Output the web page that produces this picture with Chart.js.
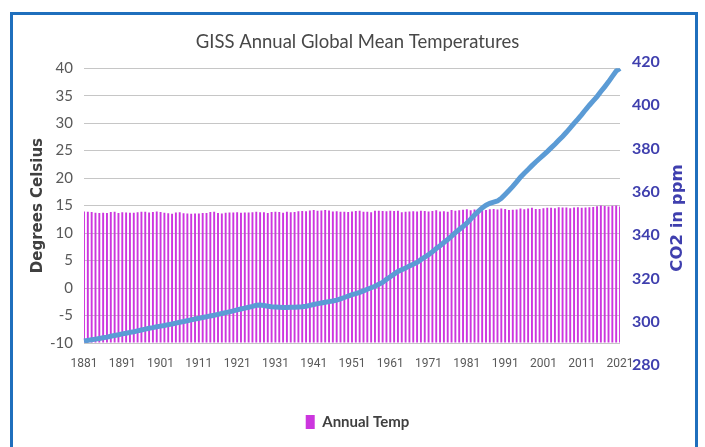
<!DOCTYPE html>
<html>
<head>
<meta charset="utf-8">
<title>GISS Annual Global Mean Temperatures</title>
<script src="https://cdn.jsdelivr.net/npm/chart.js@4/dist/chart.umd.min.js"></script>
<style>
    html, body { margin: 0; padding: 0; background: #fff; overflow: hidden; }
    #frame {
        position: absolute; left: 10px; top: 12px;
        width: 688px; height: 470px;
        border: 3px solid #1f6fbd; box-sizing: border-box;
    }
    #chart { position: absolute; left: 0; top: 0; }
</style>
</head>
<body>
<div id="frame"></div>
<canvas id="chart" width="705" height="447"></canvas>
<script>
// Years on the category axis
const years = Array.from({ length: 141 }, (_, i) => String(1881 + i));
const xTickYears = ['1881', '1891', '1901', '1911', '1921', '1931', '1941',
    '1951', '1961', '1971', '1981', '1991', '2001', '2011', '2021'];

// Annual global mean temperature, degrees Celsius (1881 - 2021)
const annualTemp = [
    13.91, 13.89, 13.83, 13.72, 13.67, 13.69, 13.64, 13.83, 13.90, 13.65,
    13.78, 13.73, 13.69, 13.70, 13.77, 13.89, 13.89, 13.73, 13.83, 13.92,
    13.85, 13.72, 13.63, 13.53, 13.74, 13.78, 13.61, 13.57, 13.52, 13.57,
    13.56, 13.64, 13.66, 13.85, 13.86, 13.64, 13.54, 13.70, 13.73, 13.73,
    13.81, 13.72, 13.74, 13.73, 13.78, 13.89, 13.78, 13.80, 13.64, 13.84,
    13.90, 13.84, 13.71, 13.87, 13.80, 13.85, 13.97, 14.00, 13.98, 14.13,
    14.19, 14.07, 14.09, 14.20, 14.09, 13.93, 13.97, 13.89, 13.89, 13.83,
    13.93, 14.01, 14.08, 13.87, 13.86, 13.81, 14.05, 14.06, 14.03, 13.97,
    14.06, 14.03, 14.05, 13.80, 13.89, 13.94, 13.98, 13.92, 14.05, 14.03,
    13.92, 14.01, 14.16, 13.93, 13.99, 13.90, 14.18, 14.07, 14.16, 14.26,
    14.32, 14.14, 14.31, 14.16, 14.12, 14.18, 14.32, 14.39, 14.27, 14.45,
    14.40, 14.22, 14.23, 14.31, 14.45, 14.33, 14.46, 14.61, 14.38, 14.39,
    14.54, 14.63, 14.62, 14.53, 14.68, 14.64, 14.66, 14.54, 14.65, 14.72,
    14.61, 14.65, 14.68, 14.75, 14.90, 15.01, 14.92, 14.85, 14.98, 15.02,
    14.85
];

// Atmospheric CO2, ppm (1881 - 2021)
const co2 = [
    291.1, 291.4, 291.7, 292.0, 292.3, 292.6, 292.9, 293.3, 293.7, 294.0,
    294.4, 294.7, 295.1, 295.4, 295.8, 296.2, 296.6, 297.0, 297.3, 297.7,
    298.0, 298.3, 298.7, 299.0, 299.4, 299.8, 300.1, 300.5, 300.9, 301.3,
    301.6, 302.0, 302.3, 302.7, 303.0, 303.4, 303.8, 304.2, 304.6, 305.0,
    305.5, 305.9, 306.3, 306.7, 307.1, 307.6, 307.7, 307.5, 307.2, 306.9,
    306.8, 306.7, 306.6, 306.6, 306.7, 306.7, 306.8, 306.9, 307.2, 307.6,
    308.0, 308.4, 308.7, 309.0, 309.3, 309.6, 310.0, 310.6, 311.2, 311.9,
    312.5, 313.0, 313.6, 314.3, 315.0, 315.7, 316.4, 317.3, 318.2, 319.6,
    320.8, 322.0, 323.2, 324.0, 324.8, 325.8, 326.6, 327.4, 328.7, 329.8,
    331.0, 332.3, 333.8, 335.1, 336.6, 338.0, 339.6, 341.2, 342.6, 344.0,
    345.5, 347.4, 349.3, 351.0, 352.6, 353.8, 354.7, 355.3, 355.8, 357.0,
    358.8, 360.6, 362.5, 364.6, 366.8, 368.6, 370.3, 372.1, 373.8, 375.4,
    377.0, 378.6, 380.3, 382.0, 383.8, 385.6, 387.5, 389.5, 391.6, 393.6,
    395.7, 397.9, 400.0, 402.0, 404.0, 406.3, 408.5, 410.8, 413.3, 415.8,
    417.0
];

// Axis ranges and tick labels
const tempMin = -10;
const tempMax = 40;
const co2Min = 290.2;
const co2Max = 417.1;
const co2Ticks = [280, 300, 320, 340, 360, 380, 400, 420];

const co2Blue = '#3f3fae';

// Right axis title reads bottom-to-top, so it is drawn by hand
const co2TitlePlugin = {
    id: 'co2Title',
    afterDraw(chart) {
        const ctx = chart.ctx;
        const scale = chart.scales.y1;
        ctx.save();
        ctx.translate(scale.right - 17, 218);
        ctx.rotate(-Math.PI / 2);
        ctx.font = 'bold 16.5px "DejaVu Sans"';
        ctx.fillStyle = co2Blue;
        ctx.textAlign = 'center';
        ctx.textBaseline = 'middle';
        ctx.fillText('CO2 in ppm', 0, 0);
        ctx.restore();
    }
};

const config = {
    type: 'bar',
    data: {
        labels: years,
        datasets: [{
            type: 'line',
            label: 'CO2',
            data: co2,
            yAxisID: 'y1',
            borderColor: '#5b9bd5',
            borderWidth: 5,
            pointRadius: 0,
            tension: 0,
            order: 0
        }, {
            label: 'Annual Temp',
            data: annualTemp,
            yAxisID: 'y',
            base: tempMin,
            backgroundColor: '#cc36de',
            barPercentage: 0.5,
            categoryPercentage: 1.0,
            order: 1
        }]
    },
    options: {
        responsive: false,
        animation: false,
        layout: { padding: { left: 20, right: 10, top: 0, bottom: 7.5 } },
        plugins: {
            title: {
                display: true,
                text: 'GISS Annual Global Mean Temperatures',
                color: '#484848',
                font: { family: 'Lato', size: 18.5, weight: 'normal' },
                padding: { top: 31, bottom: 15 }
            },
            legend: {
                position: 'bottom',
                labels: {
                    filter: item => item.text === 'Annual Temp',
                    boxWidth: 9,
                    boxHeight: 14,
                    padding: 10,
                    color: '#404040',
                    font: { family: 'Lato', size: 15, weight: 'bold' }
                }
            },
            tooltip: { enabled: false }
        },
        scales: {
            x: {
                offset: false,
                grid: { display: false, offset: false, drawTicks: false },
                border: { display: false },
                ticks: {
                    autoSkip: false,
                    maxRotation: 0,
                    padding: 14,
                    color: '#595959',
                    font: { family: 'Roboto', size: 12 },
                    callback: function (val) {
                        const label = this.getLabelForValue(val);
                        return xTickYears.includes(label) ? label : '';
                    }
                },
                afterFit: scale => { scale.height = 61.5; }
            },
            y: {
                position: 'left',
                min: tempMin,
                max: tempMax,
                grid: { color: '#c6c6c6', drawTicks: false },
                border: { display: false },
                ticks: {
                    stepSize: 5,
                    padding: 11,
                    color: '#595959',
                    font: { family: 'Lato', size: 15 }
                },
                title: {
                    display: true,
                    text: 'Degrees Celsius',
                    color: '#404040',
                    font: { family: 'DejaVu Sans', size: 15, weight: 'bold' },
                    padding: { top: 9.5, bottom: 0 }
                },
                afterFit: scale => { scale.width = 64; }
            },
            y1: {
                position: 'right',
                min: co2Min,
                max: co2Max,
                grid: { display: false, drawTicks: false },
                border: { display: false },
                afterBuildTicks: scale => {
                    scale.ticks = co2Ticks.map(v => ({ value: v }));
                },
                ticks: {
                    autoSkip: false,
                    padding: 12,
                    color: co2Blue,
                    font: { family: 'Lato', size: 16, weight: 'bold' },
                    callback: v => String(v)
                },
                afterFit: scale => { scale.width = 75; }
            }
        }
    },
    plugins: [co2TitlePlugin]
};

document.addEventListener('DOMContentLoaded', () => {
    const ctx = document.getElementById('chart').getContext('2d');
    new Chart(ctx, config);
});
</script>
</body>
</html>
